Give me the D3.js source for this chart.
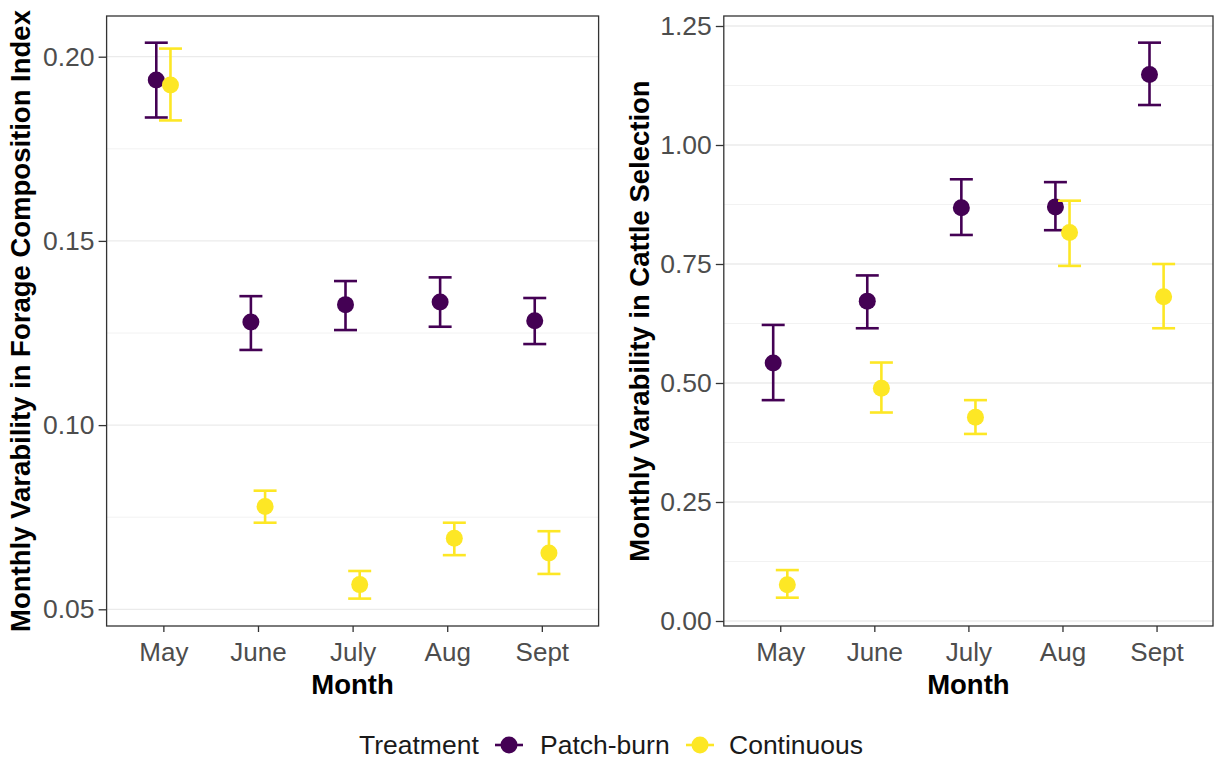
<!DOCTYPE html>
<html><head><meta charset="utf-8">
<script src="https://cdn.jsdelivr.net/npm/d3@7"></script>
<style>body{margin:0;background:#fff;}svg{display:block;font-family:"Liberation Sans",Arial,sans-serif;}</style>
</head><body>
<svg id="chart" width="1214" height="760"></svg>
<script>
const months = ["May","June","July","Aug","Sept"];
const treatments = ["Patch-burn","Continuous"];
const colors = ["#440154","#FDE725"];

// Left panel: Forage Composition Index
const forageTicks = [0.05,0.10,0.15,0.20];
const foragePatchMean = [0.1937,0.1280,0.1327,0.1334,0.1283];
const foragePatchLow  = [0.1835,0.1204,0.1258,0.1267,0.1220];
const foragePatchHigh = [0.2038,0.1350,0.1391,0.1401,0.1345];
const forageContMean  = [0.1923,0.0779,0.0567,0.0693,0.0653];
const forageContLow   = [0.1827,0.0735,0.0529,0.0647,0.0596];
const forageContHigh  = [0.2022,0.0822,0.0604,0.0735,0.0712];

// Right panel: Cattle Selection
const cattleTicks = [0.00,0.25,0.50,0.75,1.00,1.25];
const cattlePatchMean = [0.542,0.672,0.868,0.870,1.148];
const cattlePatchLow  = [0.464,0.615,0.811,0.821,1.084];
const cattlePatchHigh = [0.622,0.726,0.928,0.922,1.215];
const cattleContMean  = [0.076,0.489,0.428,0.816,0.681];
const cattleContLow   = [0.049,0.438,0.393,0.746,0.615];
const cattleContHigh  = [0.107,0.543,0.464,0.883,0.750];

const svg = d3.select("#chart");
const FONT = "'Liberation Sans',Arial,sans-serif";

function panel(cfg){
  const {left,right,top,bottom,domain,ticks,fmt,title,series} = cfg;
  const x = d3.scalePoint().domain(months).range([left,right]).padding(0.6);
  const y = d3.scaleLinear().domain(domain).range([bottom,top]);
  const g = svg.append("g");
  // grid minor
  const stepT = ticks[1]-ticks[0];
  const minor = [];
  [ticks[0]-stepT/2, ...ticks.map(t=>t+stepT/2)].forEach(m=>{ if(m>domain[0] && m<domain[1]) minor.push(m); });
  g.selectAll(".minor").data(minor).join("line")
    .attr("x1",left).attr("x2",right).attr("y1",d=>y(d)).attr("y2",d=>y(d))
    .attr("stroke","#f2f2f2").attr("stroke-width",1);
  g.selectAll(".major").data(ticks).join("line")
    .attr("x1",left).attr("x2",right).attr("y1",d=>y(d)).attr("y2",d=>y(d))
    .attr("stroke","#ebebeb").attr("stroke-width",1.3);
  // data
  const step = x.step();
  const dodge = 0.075*step;
  series.forEach((s,si)=>{
    const off = si===0 ? -dodge : dodge;
    const data = months.map((m,i)=>({m,mean:s.mean[i],lo:s.lo[i],hi:s.hi[i]}));
    const sg = g.append("g");
    const cap = 11.5, lw = 2.6;
    sg.selectAll(".v").data(data).join("line")
      .attr("x1",d=>x(d.m)+off).attr("x2",d=>x(d.m)+off)
      .attr("y1",d=>y(d.lo)).attr("y2",d=>y(d.hi))
      .attr("stroke",colors[si]).attr("stroke-width",lw);
    sg.selectAll(".t").data(data).join("line")
      .attr("x1",d=>x(d.m)+off-cap).attr("x2",d=>x(d.m)+off+cap)
      .attr("y1",d=>y(d.hi)).attr("y2",d=>y(d.hi))
      .attr("stroke",colors[si]).attr("stroke-width",lw);
    sg.selectAll(".b").data(data).join("line")
      .attr("x1",d=>x(d.m)+off-cap).attr("x2",d=>x(d.m)+off+cap)
      .attr("y1",d=>y(d.lo)).attr("y2",d=>y(d.lo))
      .attr("stroke",colors[si]).attr("stroke-width",lw);
    sg.selectAll("circle").data(data).join("circle")
      .attr("cx",d=>x(d.m)+off).attr("cy",d=>y(d.mean)).attr("r",8.5)
      .attr("fill",colors[si]);
  });
  // border
  g.append("rect").attr("x",left).attr("y",top).attr("width",right-left).attr("height",bottom-top)
    .attr("fill","none").attr("stroke","#333").attr("stroke-width",1.3);
  // axes
  const ya = g.append("g").attr("transform",`translate(${left},0)`)
    .call(d3.axisLeft(y).tickValues(ticks).tickFormat(fmt).tickSize(8).tickPadding(4));
  ya.select(".domain").remove();
  ya.selectAll(".tick line").attr("stroke","#333").attr("stroke-width",1.3);
  ya.selectAll(".tick text").attr("fill","#4d4d4d").style("font-size","26.5px").style("font-family",FONT);
  const xa = g.append("g").attr("transform",`translate(0,${bottom})`)
    .call(d3.axisBottom(x).tickSize(6).tickPadding(11));
  xa.select(".domain").remove();
  xa.selectAll(".tick line").attr("stroke","#333").attr("stroke-width",1.3);
  xa.selectAll(".tick text").attr("fill","#4d4d4d").style("font-size","26px").style("font-family",FONT);
  // titles
  g.append("text").attr("x",(left+right)/2).attr("y",bottom+68)
    .attr("text-anchor","middle").style("font-size","27.5px").style("font-weight","bold").attr("fill","#000").text("Month");
  g.append("text").attr("transform",`translate(${cfg.titleX},${(top+bottom)/2}) rotate(-90)`)
    .attr("text-anchor","middle").style("font-size","27.5px").style("font-weight","bold").attr("fill","#000").text(title);
}

panel({left:106.6,right:598.6,top:16,bottom:626,
  domain:[0.05-(626-609.3)/3684, 0.20+(56.7-16)/3684],
  ticks:forageTicks, fmt:d3.format(".2f"),
  title:"Monthly Varability in Forage Composition Index", titleX:30,
  series:[{mean:foragePatchMean,lo:foragePatchLow,hi:foragePatchHigh},
          {mean:forageContMean,lo:forageContLow,hi:forageContHigh}]});

panel({left:723.8,right:1213,top:16,bottom:626,
  domain:[-(626-621)/476, (621-16)/476],
  ticks:cattleTicks, fmt:d3.format(".2f"),
  title:"Monthly Varability in Cattle Selection", titleX:649,
  series:[{mean:cattlePatchMean,lo:cattlePatchLow,hi:cattlePatchHigh},
          {mean:cattleContMean,lo:cattleContLow,hi:cattleContHigh}]});

// legend
const lg = svg.append("g").attr("transform","translate(0,745)");
lg.append("text").attr("x",359).attr("y",9).style("font-size","26.5px").attr("fill","#1a1a1a").text("Treatment");
const keyX = [509,700];
const labX = [540,729];
treatments.forEach((t,i)=>{
  lg.append("line").attr("x1",keyX[i]-14).attr("x2",keyX[i]+14).attr("y1",0).attr("y2",0)
    .attr("stroke",colors[i]).attr("stroke-width",2.6);
  lg.append("circle").attr("cx",keyX[i]).attr("cy",0).attr("r",8.5).attr("fill",colors[i]);
  lg.append("text").attr("x",labX[i]).attr("y",9).style("font-size","26.5px").attr("fill","#1a1a1a").text(t);
});
</script>
</body></html>
